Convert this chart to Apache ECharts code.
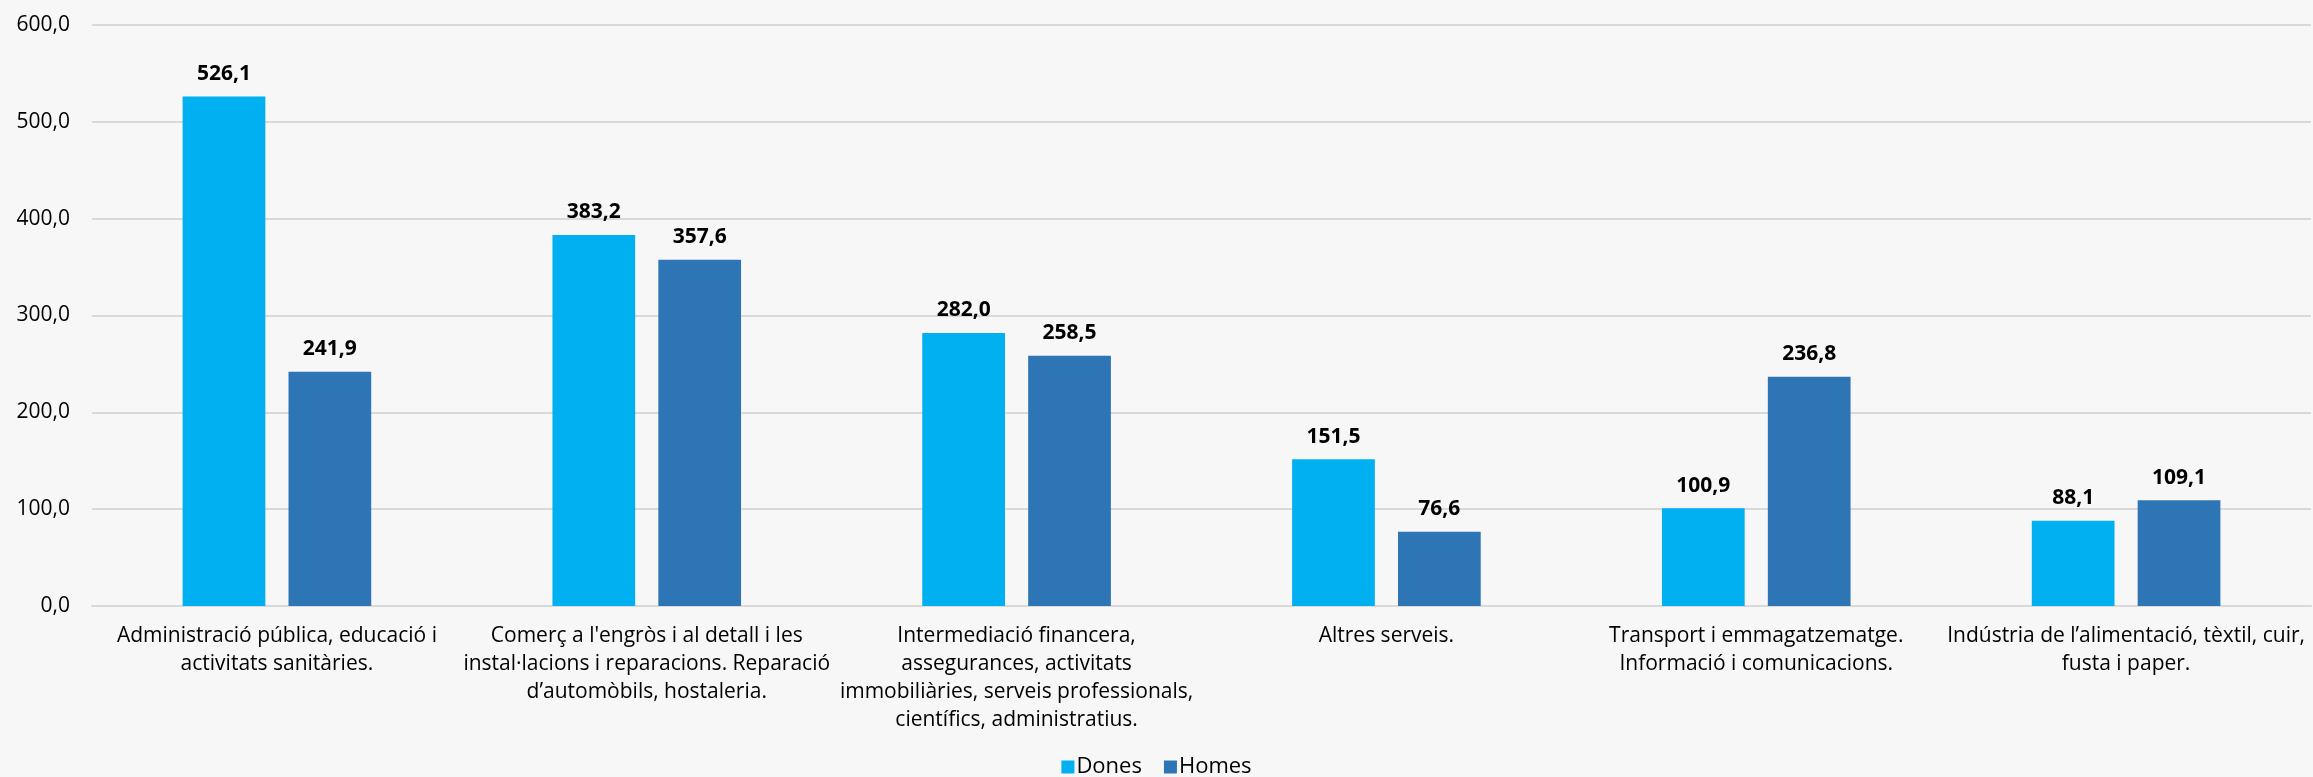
<!DOCTYPE html>
<html>
<head>
<meta charset="utf-8">
<script src="https://cdn.jsdelivr.net/npm/echarts@6/dist/echarts.min.js"></script>
<style>
  html, body { margin: 0; padding: 0; background: #f7f7f7; }
  #chart { width: 2313px; height: 777px; }
</style>
</head>
<body>
<div id="chart"></div>
<script>
// categories (line breaks as in the original)
const categories = [
  'Administració pública, educació i\nactivitats sanitàries.',
  "Comerç a l'engròs i al detall i les\ninstal·lacions i reparacions. Reparació\nd’automòbils, hostaleria.",
  'Intermediació financera,\nassegurances, activitats\nimmobiliàries, serveis professionals,\ncientífics, administratius.',
  'Altres serveis.',
  'Transport i emmagatzematge.\nInformació i comunicacions.',
  'Indústria de l’alimentació, tèxtil, cuir,\nfusta i paper.'
];
const dones = [526.1, 383.2, 282.0, 151.5, 100.9, 88.1];
const homes = [241.9, 357.6, 258.5, 76.6, 236.8, 109.1];

const fontFam = '"Liberation Sans Narrow", "Open Sans", "Noto Sans", sans-serif';
const fmt = v => Number(v).toFixed(1).replace('.', ',');

let chart = echarts.init(document.getElementById('chart'));
let option = {
  backgroundColor: '#f7f7f7',
  animation: false,
  textStyle: { fontFamily: fontFam },
  grid: { left: 92, right: 2, top: 25, bottom: 171, containLabel: false },
  legend: {
    bottom: -6,
    left: 'center',
    itemWidth: 13,
    itemHeight: 13,
    itemGap: 22,
    icon: 'rect',
    textStyle: { fontSize: 22, color: '#000', fontFamily: fontFam, padding: [0, 0, 0, -3] },
    data: ['Dones', 'Homes']
  },
  xAxis: {
    type: 'category',
    data: categories,
    axisTick: { show: false },
    axisLine: { show: true, lineStyle: { color: '#d9d9d9', width: 2 } },
    axisLabel: {
      interval: 0,
      margin: 16,
      fontSize: 21,
      lineHeight: 28,
      color: '#000',
      align: 'center'
    }
  },
  yAxis: {
    type: 'value',
    min: 0,
    max: 600,
    interval: 100,
    axisLine: { show: false },
    axisTick: { show: false },
    splitLine: { lineStyle: { color: '#d9d9d9', width: 2 } },
    axisLabel: {
      margin: 22,
      fontSize: 21,
      color: '#000',
      formatter: fmt
    }
  },
  series: [
    {
      name: 'Dones',
      type: 'bar',
      data: dones,
      barGap: '28%',
      barCategoryGap: '49%',
      itemStyle: { color: '#00b0f0' },
      label: {
        show: true,
        position: 'top',
        distance: 12,
        fontSize: 21,
        fontWeight: 'bold',
        color: '#000',
        formatter: p => fmt(p.value)
      }
    },
    {
      name: 'Homes',
      type: 'bar',
      data: homes,
      barGap: '28%',
      barCategoryGap: '49%',
      itemStyle: { color: '#2e75b6' },
      label: {
        show: true,
        position: 'top',
        distance: 12,
        fontSize: 21,
        fontWeight: 'bold',
        color: '#000',
        formatter: p => fmt(p.value)
      }
    }
  ]
};
chart.setOption(option);
</script>
</body>
</html>
